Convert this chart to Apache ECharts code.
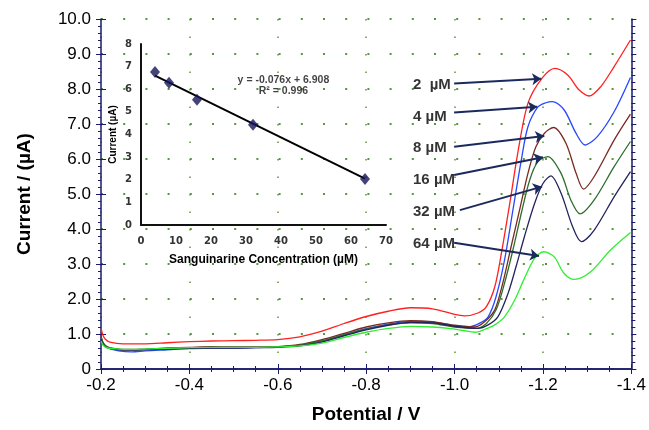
<!DOCTYPE html>
<html><head><meta charset="utf-8">
<script src="https://cdn.jsdelivr.net/npm/echarts@6/dist/echarts.min.js"></script>
<style>html,body{margin:0;padding:0;background:#fff}#c{width:649px;height:430px}</style>
</head><body><div id="c"></div>
<script>
// ---- main voltammograms: [potential (V), current (µA)] ----
const baseRed = [[-0.2,1.15],[-0.205,0.95],[-0.21,0.85],[-0.22,0.77],[-0.25,0.72],[-0.3,0.72],[-0.35,0.75],[-0.4,0.78],[-0.45,0.8],[-0.5,0.81],[-0.55,0.82],[-0.6,0.84],[-0.65,0.92],[-0.7,1.08],[-0.75,1.3],[-0.8,1.5],[-0.85,1.65],[-0.9,1.75],[-0.95,1.72],[-1.0,1.56],[-1.023,1.52],[-1.053,1.6],[-1.072,1.78],[-1.091,2.35],[-1.106,3.31],[-1.125,4.74],[-1.143,6.17],[-1.166,7.59],[-1.198,8.31],[-1.227,8.59],[-1.256,8.4],[-1.282,7.97],[-1.305,7.8],[-1.331,8.07],[-1.361,8.64],[-1.398,9.4]];
const blue4 = [[-0.2,0.88],[-0.205,0.72],[-0.215,0.6],[-0.24,0.52],[-0.27,0.49],[-0.3,0.52],[-0.35,0.55],[-0.4,0.58],[-0.45,0.6],[-0.5,0.6],[-0.55,0.61],[-0.6,0.63],[-0.65,0.68],[-0.7,0.8],[-0.75,0.98],[-0.8,1.15],[-0.85,1.28],[-0.9,1.36],[-0.95,1.34],[-1.0,1.24],[-1.031,1.2],[-1.057,1.31],[-1.076,1.49],[-1.094,2.07],[-1.113,3.11],[-1.132,4.54],[-1.151,5.97],[-1.166,6.92],[-1.188,7.48],[-1.205,7.6],[-1.222,7.64],[-1.248,7.4],[-1.275,6.73],[-1.295,6.4],[-1.323,6.64],[-1.361,7.35],[-1.398,8.33]];
const brown8 = [[-0.2,0.95],[-0.205,0.75],[-0.215,0.63],[-0.24,0.57],[-0.27,0.56],[-0.3,0.57],[-0.35,0.6],[-0.4,0.62],[-0.45,0.64],[-0.5,0.63],[-0.55,0.63],[-0.6,0.64],[-0.65,0.7],[-0.7,0.84],[-0.75,1.02],[-0.8,1.2],[-0.85,1.32],[-0.9,1.38],[-0.95,1.35],[-1.0,1.25],[-1.046,1.2],[-1.068,1.35],[-1.091,1.69],[-1.109,2.45],[-1.128,3.5],[-1.147,4.54],[-1.166,5.59],[-1.184,6.35],[-1.203,6.73],[-1.224,6.9],[-1.252,6.45],[-1.275,5.59],[-1.292,5.14],[-1.316,5.5],[-1.361,6.54],[-1.398,7.28]];
const dkgreen16 = [[-0.2,0.92],[-0.205,0.74],[-0.215,0.62],[-0.24,0.56],[-0.27,0.55],[-0.3,0.56],[-0.35,0.58],[-0.4,0.6],[-0.45,0.62],[-0.5,0.62],[-0.55,0.62],[-0.6,0.63],[-0.65,0.68],[-0.7,0.8],[-0.75,0.98],[-0.8,1.14],[-0.85,1.26],[-0.9,1.32],[-0.95,1.3],[-1.0,1.2],[-1.049,1.16],[-1.072,1.3],[-1.094,1.69],[-1.113,2.45],[-1.132,3.4],[-1.151,4.45],[-1.17,5.4],[-1.188,5.92],[-1.211,6.07],[-1.241,5.59],[-1.263,4.83],[-1.284,4.43],[-1.316,4.83],[-1.361,5.78],[-1.398,6.5]];
const navy32 = [[-0.2,0.85],[-0.205,0.7],[-0.215,0.6],[-0.24,0.55],[-0.27,0.54],[-0.3,0.55],[-0.35,0.57],[-0.4,0.59],[-0.45,0.6],[-0.5,0.6],[-0.55,0.61],[-0.6,0.62],[-0.65,0.66],[-0.7,0.77],[-0.75,0.95],[-0.8,1.12],[-0.85,1.25],[-0.9,1.33],[-0.95,1.32],[-1.0,1.22],[-1.053,1.16],[-1.076,1.26],[-1.098,1.49],[-1.121,2.16],[-1.139,2.92],[-1.158,3.78],[-1.181,4.73],[-1.2,5.3],[-1.218,5.52],[-1.241,5.02],[-1.267,4.07],[-1.287,3.64],[-1.316,3.97],[-1.361,4.92],[-1.398,5.64]];
const green64 = [[-0.2,0.8],[-0.205,0.68],[-0.215,0.6],[-0.24,0.57],[-0.27,0.56],[-0.3,0.57],[-0.35,0.59],[-0.4,0.61],[-0.45,0.62],[-0.5,0.62],[-0.55,0.62],[-0.6,0.63],[-0.65,0.66],[-0.7,0.74],[-0.75,0.9],[-0.8,1.05],[-0.85,1.16],[-0.9,1.22],[-0.95,1.2],[-0.986,1.16],[-1.02,1.1],[-1.046,1.05],[-1.068,1.13],[-1.091,1.26],[-1.113,1.49],[-1.136,1.97],[-1.158,2.59],[-1.181,3.16],[-1.202,3.35],[-1.225,3.21],[-1.248,2.73],[-1.271,2.56],[-1.308,2.78],[-1.353,3.4],[-1.398,3.9]];

const seriesNames = ['2 µM','4 µM','8 µM','16 µM','32 µM','64 µM'];
const seriesData = [baseRed, blue4, brown8, dkgreen16, navy32, green64];
const seriesColors = ['#ff2020','#2848ff','#7a2a22','#2c6e2c','#23235e','#30ee30'];

// ---- annotation labels and arrows (data coords) ----
const labelTexts = ['2  µM','4 µM','8 µM','16 µM','32 µM','64 µM'];
const labelAnchors = [[-0.906,8.11],[-0.906,7.21],[-0.906,6.31],[-0.906,5.4],[-0.906,4.49],[-0.906,3.57]];
const arrowStart = [[-0.999,8.16],[-0.999,7.33],[-0.999,6.35],[-0.999,5.54],[-1.012,4.54],[-0.999,3.61]];
const arrowEnd = [[-1.196,8.29],[-1.187,7.49],[-1.203,6.66],[-1.2,6.05],[-1.198,5.21],[-1.191,3.23]];

// ---- inset calibration ----
const insetConc = [4, 8, 16, 32, 64];
const insetCurrent = [6.76, 6.29, 5.54, 4.43, 2.03];
const trendLine = [[4, 6.6], [64, 2.05]];
const eqText = 'y = -0.076x + 6.908\nR² = 0.996';
const eqAnchor = [40.7, 6.15];

const xTicks = [-1.4,-1.2,-1.0,-0.8,-0.6,-0.4,-0.2];
const yTicks = [0,1,2,3,4,5,6,7,8,9,10];

const AX = '#1a1a6e';
const GRIDC = '#5a9638';
const FONT = '"Liberation Sans", Arial, sans-serif';

const chart = echarts.init(document.getElementById('c'), null, {renderer:'canvas'});

const series = seriesData.map((d,i)=>({
  type:'line', name:seriesNames[i], data:d, xAxisIndex:0, yAxisIndex:0,
  showSymbol:false, smooth:0.3, lineStyle:{color:seriesColors[i], width:1.3}, z:3,
  animation:false
}));
series.push({
  type:'scatter', xAxisIndex:0, yAxisIndex:0, symbolSize:0, animation:false, silent:true,
  data: labelAnchors.map((p,i)=>({value:p, label:{formatter:labelTexts[i]}})),
  label:{show:true, position:'right', distance:0, color:'#000', fontSize:15, fontWeight:'bold', fontFamily:FONT},
  markLine:{
    silent:true, animation:false, symbol:['none','arrow'], symbolSize:9,
    label:{show:false},
    lineStyle:{color:'#1b2a5c', width:2, type:'solid'},
    data: arrowStart.map((s,i)=>[{coord:s},{coord:arrowEnd[i]}])
  }
});
// inset
series.push({
  type:'line', xAxisIndex:3, yAxisIndex:3, data:trendLine, showSymbol:false,
  lineStyle:{color:'#000', width:2}, animation:false, z:4
});
series.push({
  type:'scatter', xAxisIndex:3, yAxisIndex:3, animation:false, z:5,
  data: insetConc.map((c,i)=>[c, insetCurrent[i]]),
  symbol:'diamond', symbolSize:[10,12], itemStyle:{color:'#15155a'}
});
series.push({
  type:'scatter', xAxisIndex:3, yAxisIndex:3, animation:false, symbolSize:0, silent:true,
  data:[eqAnchor],
  label:{show:true, position:'inside', formatter:eqText, color:'#111', fontSize:10.5, fontWeight:'bold',
         fontFamily:FONT, lineHeight:11, align:'center'}
});

const fmtX = v => v.toFixed(1);
const fmtY = v => v===0 ? '0' : v.toFixed(1);

chart.setOption({
  animation:false,
  backgroundColor:'#fff',
  grid:[
    {left:101, top:19, width:533, height:350},
    {left:141, top:44, width:245, height:181}
  ],
  xAxis:[
    {gridIndex:0, type:'value', min:-1.4, max:-0.2, interval:0.2, inverse:true, position:'bottom',
     axisLine:{lineStyle:{color:AX, width:1.5}},
     axisTick:{inside:true, length:5, lineStyle:{color:AX}},
     minorTick:{show:true, splitNumber:4, length:3, lineStyle:{color:AX}},
     axisLabel:{formatter:fmtX, color:'#000', fontSize:17, fontFamily:FONT, margin:8},
     splitLine:{show:true, lineStyle:{color:GRIDC, width:1.5, type:[1.5,16]}},
     name:'Potential / V', nameLocation:'middle', nameGap:36,
     nameTextStyle:{color:'#000', fontSize:19, fontWeight:'bold', fontFamily:FONT}},
    {gridIndex:0, type:'value', min:-1.4, max:-0.2, interval:0.2, inverse:true, position:'bottom',
     axisLine:{show:false}, axisLabel:{show:false}, splitLine:{show:false},
     axisTick:{inside:false, length:4, lineStyle:{color:AX}}},
    {gridIndex:0, type:'value', min:-1.4, max:-0.2, interval:0.2, inverse:true, position:'top',
     axisLine:{lineStyle:{color:AX, width:1.5}}, axisLabel:{show:false}, splitLine:{show:false},
     axisTick:{inside:true, length:5, lineStyle:{color:AX}},
     minorTick:{show:true, splitNumber:4, length:3, lineStyle:{color:AX}}},
    {gridIndex:1, type:'value', min:0, max:70, interval:10,
     axisLine:{lineStyle:{color:'#111', width:2}}, axisTick:{show:false}, splitLine:{show:false},
     axisLabel:{color:'#333', fontSize:10, fontWeight:'bold', fontFamily:'"DejaVu Sans", sans-serif', margin:11},
     name:'Sanguinarine Concentration (µM)', nameLocation:'middle', nameGap:29,
     nameTextStyle:{color:'#000', fontSize:12, fontWeight:'bold', fontFamily:FONT}},
  ],
  yAxis:[
    {gridIndex:0, type:'value', min:0, max:10, interval:1,
     axisLine:{lineStyle:{color:AX, width:1.5}},
     axisTick:{inside:false, length:5, lineStyle:{color:AX}},
     minorTick:{show:true, splitNumber:5, length:3, lineStyle:{color:AX}},
     axisLabel:{formatter:fmtY, color:'#000', fontSize:17, fontFamily:FONT, margin:10},
     splitLine:{show:true, lineStyle:{color:GRIDC, width:2, type:[2,20.2]}},
     name:'Current / (µA)', nameLocation:'middle', nameGap:67,
     nameTextStyle:{color:'#000', fontSize:19, fontWeight:'bold', fontFamily:FONT}},
    {gridIndex:0, type:'value', min:0, max:10, interval:1, position:'left',
     axisLine:{show:false}, axisLabel:{show:false}, splitLine:{show:false},
     axisTick:{inside:true, length:5, lineStyle:{color:AX}}},
    {gridIndex:0, type:'value', min:0, max:10, interval:1, position:'right',
     axisLine:{show:true, lineStyle:{color:AX, width:1.5}}, axisLabel:{show:false}, splitLine:{show:false},
     axisTick:{inside:false, length:5, lineStyle:{color:AX}},
     minorTick:{show:true, splitNumber:5, length:4, lineStyle:{color:AX}}},
    {gridIndex:1, type:'value', min:0, max:8, interval:1,
     axisLine:{show:true, lineStyle:{color:'#111', width:2}}, axisTick:{show:false}, splitLine:{show:false},
     axisLabel:{color:'#333', fontSize:10, fontWeight:'bold', fontFamily:'"DejaVu Sans", sans-serif', margin:9},
     name:'Current (µA)', nameLocation:'middle', nameGap:23,
     nameTextStyle:{color:'#000', fontSize:10, fontWeight:'bold', fontFamily:FONT}}
  ],
  series: series
});
</script></body></html>
